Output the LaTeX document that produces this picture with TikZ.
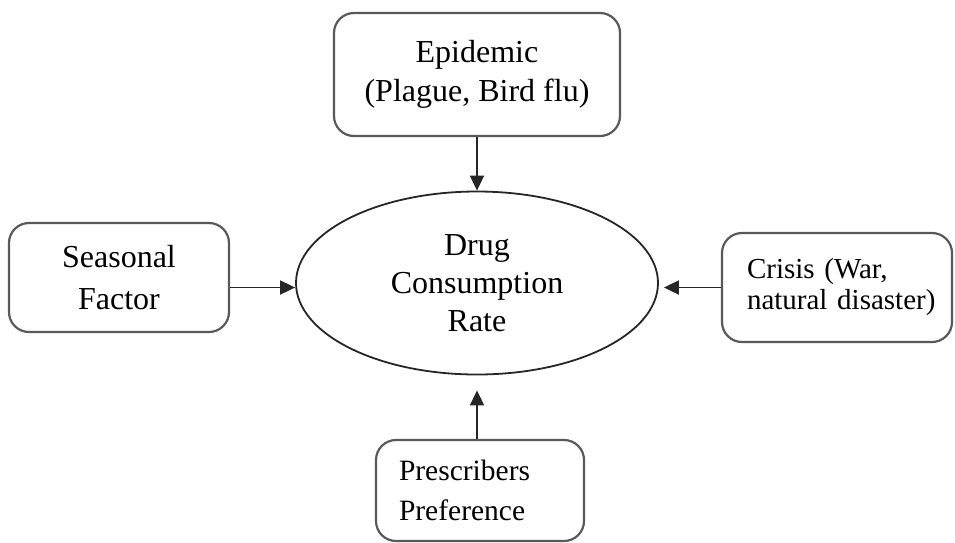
\documentclass[tikz,border=0pt]{standalone}
\usepackage{fontspec}
\setmainfont{Liberation Serif}
\usetikzlibrary{positioning,arrows.meta,shapes.geometric}

\tikzset{
  factor/.style={rectangle, rounded corners=20pt, draw=black!65, line width=2.2pt, inner sep=0pt},
  arr/.style={-{Triangle[length=15pt,width=14pt]}, line width=1.8pt, black!85}
}

\begin{document}
\begin{tikzpicture}[x=1pt, y=-1pt]
		\useasboundingbox (0,0) rectangle (955,542);
		\node[ellipse, draw=black!85, line width=1.8pt, minimum width=362pt, minimum height=183pt, inner sep=0pt, align=center, font=\fontsize{32}{38}\selectfont] (drug) at (477,283) {Drug\\Consumption\\Rate};
		\node[factor, minimum width=286pt, minimum height=123pt, align=center, font=\fontsize{32}{39}\selectfont] (epi) at (477,74.5) {\raisebox{4pt}{Epidemic}\\\raisebox{4pt}{(Plague, Bird flu)}};
		\node[factor, minimum width=220pt, minimum height=109pt, align=center, font=\fontsize{32}{42}\selectfont] (seas) at (119,277.5) {Seasonal\\Factor};
		\node[factor, minimum width=230pt, minimum height=109pt, text width=180pt, inner xsep=25pt, align=left, font=\fontsize{29}{31}\selectfont] (crisis) at (837,287.5) {\mbox{Crisis (War,}\\\mbox{natural disaster)}};
		\node[factor, minimum width=208pt, minimum height=101pt, text width=162pt, inner xsep=23pt, align=left, font=\fontsize{29.5}{40}\selectfont] (presc) at (480,490.5) {Prescribers\\Preference};

		\coordinate (s1) at ([yshift=-10pt]seas.east);
		\draw[arr] (epi.south) -- (drug.north);
		\draw[arr] (s1) -- (s1 -| drug.west);
		\draw[arr, shorten >=5pt] (crisis.west) -- (crisis.west -| drug.east);
		\draw[arr, shorten >=15pt] (presc.north -| drug.south) -- (drug.south);
	\end{tikzpicture}
\end{document}
